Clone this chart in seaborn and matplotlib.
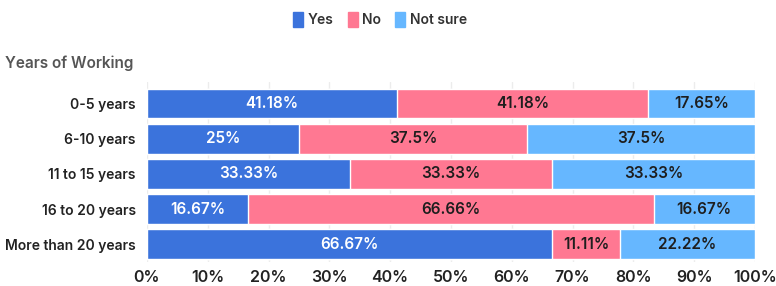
import matplotlib.pyplot as plt
import matplotlib.patches as mpatches
import seaborn as sns
import pandas as pd
import numpy as np

# data
groups = ["0-5 years", "6-10 years", "11 to 15 years", "16 to 20 years", "More than 20 years"]
yes = [41.18, 25.0, 33.33, 16.67, 66.67]
no = [41.18, 37.5, 33.33, 66.66, 11.11]
not_sure = [17.65, 37.5, 33.33, 16.67, 22.22]
yes_lbl = ["41.18%", "25%", "33.33%", "16.67%", "66.67%"]
no_lbl = ["41.18%", "37.5%", "33.33%", "66.66%", "11.11%"]
ns_lbl = ["17.65%", "37.5%", "33.33%", "16.67%", "22.22%"]

c_yes, c_no, c_ns = "#3B73DC", "#FF7892", "#66B7FF"

sns.set_theme(style="white")
plt.rcParams["font.family"] = ["Inter", "DejaVu Sans"]

df = pd.DataFrame({"group": groups, "yes": yes, "no": no, "ns": not_sure})
df["yes_no"] = df["yes"] + df["no"]
df["total"] = df["yes_no"] + df["ns"]

fig = plt.figure(figsize=(7.76, 2.86), dpi=100)
ax = fig.add_axes([0.1894, 0.0839, 0.7835, 0.628])

# stacked bars drawn as cumulative layers
for col, color in [("total", c_ns), ("yes_no", c_no), ("yes", c_yes)]:
    sns.barplot(data=df, x=col, y="group", orient="h", color=color, width=0.85,
                edgecolor="white", linewidth=1, saturation=1, ax=ax, zorder=2)

for i in range(len(groups)):
    ax.text(yes[i] / 2, i, yes_lbl[i], ha="center", va="center", color="white",
            fontsize=11, fontweight="semibold", zorder=5)
    ax.text(yes[i] + no[i] / 2, i, no_lbl[i], ha="center", va="center", color="#1e1e1e",
            fontsize=11, fontweight="semibold", zorder=5)
    ax.text(yes[i] + no[i] + not_sure[i] / 2, i, ns_lbl[i], ha="center", va="center",
            color="#1e1e1e", fontsize=11, fontweight="semibold", zorder=5)

ax.set_xlim(0, 100)
ax.set_ylim(4.5, -0.6)
ax.set_xticks(np.arange(0, 101, 10))
ax.set_xticklabels([f"{v}%" for v in range(0, 101, 10)])
ax.set_xlabel("")
ax.set_ylabel("")
ax.grid(axis="x", color="#ececec", linewidth=1, zorder=0)
ax.grid(axis="y", visible=False)
for s in ax.spines.values():
    s.set_visible(False)
ax.tick_params(axis="x", length=4, color="#e6e6e6", labelsize=11.5, labelcolor="#222222", pad=2)
ax.tick_params(axis="y", length=5, color="#e6e6e6", labelsize=10, labelcolor="#222222", pad=3)
for lab in ax.get_xticklabels() + ax.get_yticklabels():
    lab.set_fontweight("semibold")

fig.text(0.006, 0.78, "Years of Working", fontsize=11, fontweight="semibold", color="#555555",
         ha="left", va="center")

handles = [mpatches.Patch(color=c) for c in [c_yes, c_no, c_ns]]
leg = fig.legend(handles, ["Yes", "No", "Not sure"], loc="upper center", bbox_to_anchor=(0.49, 1.0),
                 ncol=3, frameon=False, handlelength=0.7, handleheight=1.2, handletextpad=0.35,
                 columnspacing=1.0, fontsize=10)
for t in leg.get_texts():
    t.set_fontweight("semibold")
    t.set_color("#333333")

fig.savefig("out.png", dpi=100)
